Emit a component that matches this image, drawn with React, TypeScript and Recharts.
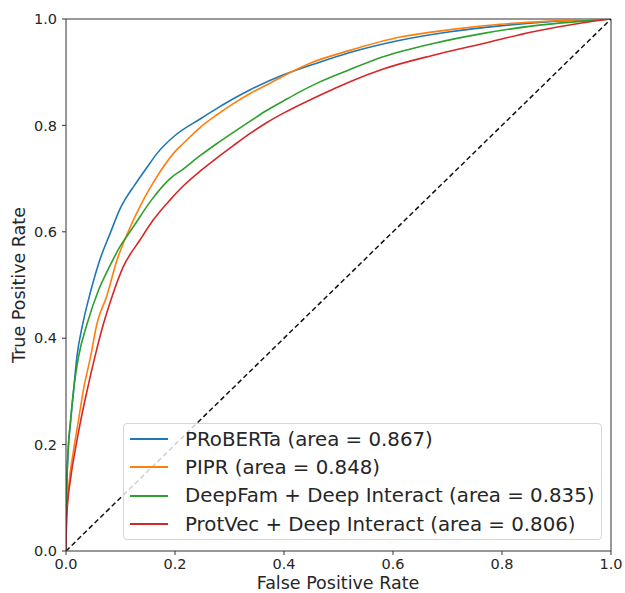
import React from "react";
import {
  LineChart,
  Line,
  XAxis,
  YAxis,
  ReferenceLine,
  Legend,
} from "recharts";

// ROC curves, [false positive rate, true positive rate]
const probertaRoc: [number, number][] = [
  [0, 0], [0.001, 0.1], [0.004, 0.19], [0.008, 0.24], [0.014, 0.303],
  [0.02, 0.365], [0.031, 0.428], [0.046, 0.491], [0.062, 0.547], [0.081, 0.597],
  [0.1, 0.645], [0.108, 0.66], [0.124, 0.685], [0.154, 0.729], [0.166, 0.746],
  [0.2, 0.781], [0.246, 0.812], [0.277, 0.832], [0.307, 0.85], [0.338, 0.867],
  [0.399, 0.895], [0.46, 0.917], [0.521, 0.937], [0.613, 0.96], [0.705, 0.976],
  [0.796, 0.987], [0.888, 0.995], [1, 1],
];

const piprRoc: [number, number][] = [
  [0, 0], [0.001, 0.06], [0.007, 0.14], [0.014, 0.19], [0.022, 0.24],
  [0.032, 0.303], [0.045, 0.365], [0.057, 0.428], [0.075, 0.48], [0.093, 0.545],
  [0.114, 0.6], [0.142, 0.66], [0.154, 0.682], [0.172, 0.712], [0.203, 0.754],
  [0.215, 0.766], [0.246, 0.796], [0.277, 0.82], [0.307, 0.841], [0.338, 0.86],
  [0.368, 0.876], [0.399, 0.893], [0.448, 0.917], [0.521, 0.941], [0.613, 0.966],
  [0.705, 0.98], [0.796, 0.99], [0.888, 0.996], [1, 1],
];

const deepFamRoc: [number, number][] = [
  [0, 0], [0.001, 0.1], [0.004, 0.19], [0.008, 0.24], [0.014, 0.303],
  [0.023, 0.365], [0.039, 0.428], [0.06, 0.491], [0.08, 0.535], [0.099, 0.572],
  [0.124, 0.61], [0.157, 0.66], [0.191, 0.7], [0.215, 0.718], [0.246, 0.743],
  [0.277, 0.766], [0.307, 0.787], [0.338, 0.808], [0.368, 0.828], [0.399, 0.846],
  [0.429, 0.863], [0.46, 0.879], [0.521, 0.905], [0.582, 0.929], [0.674, 0.954],
  [0.766, 0.973], [0.857, 0.987], [0.949, 0.996], [1, 1],
];

const protVecRoc: [number, number][] = [
  [0, 0], [0.001, 0.06], [0.009, 0.14], [0.017, 0.19], [0.026, 0.24],
  [0.039, 0.303], [0.053, 0.365], [0.069, 0.428], [0.085, 0.48], [0.105, 0.534],
  [0.136, 0.585], [0.16, 0.622], [0.191, 0.66], [0.215, 0.686], [0.246, 0.714],
  [0.277, 0.739], [0.307, 0.762], [0.338, 0.785], [0.368, 0.805], [0.399, 0.823],
  [0.46, 0.854], [0.49, 0.868], [0.521, 0.882], [0.582, 0.906], [0.674, 0.932],
  [0.766, 0.954], [0.857, 0.976], [0.949, 0.993], [1, 1],
];

const chanceLine: [number, number][] = [[0, 0], [1, 1]];

const seriesNames = [
  "PRoBERTa (area = 0.867)",
  "PIPR (area = 0.848)",
  "DeepFam + Deep Interact (area = 0.835)",
  "ProtVec + Deep Interact (area = 0.806)",
];
const seriesColors = ["#1f77b4", "#ff7f0e", "#2ca02c", "#d62728"];
const seriesData = [probertaRoc, piprRoc, deepFamRoc, protVecRoc];

const axisTicks = [0, 0.2, 0.4, 0.6, 0.8, 1.0];

const toRows = (pts: [number, number][]) => pts.map(([fpr, tpr]) => ({ fpr, tpr }));

const FONT = "'DejaVu Sans', sans-serif";
const INK = "#262626";

const LegendBox = () => (
  <div
    style={{
      width: 479,
      height: 117,
      boxSizing: "border-box",
      border: "1px solid #d6d6d6",
      borderRadius: 4,
      background: "rgba(255,255,255,0.8)",
      paddingTop: 1,
      fontFamily: FONT,
      fontSize: 19.8,
      color: INK,
    }}
  >
    {seriesNames.map((name, i) => (
      <div key={name} style={{ height: 28.3, display: "flex", alignItems: "center" }}>
        <div
          style={{
            marginLeft: 6,
            width: 38,
            height: 2,
            background: seriesColors[i],
            marginRight: 17,
          }}
        />
        <span style={{ whiteSpace: "nowrap" }}>{name}</span>
      </div>
    ))}
  </div>
);

export default function App() {
  return (
    <div style={{ position: "absolute", left: 0, top: 0, width: 625, height: 593, background: "#fff" }}>
      <LineChart width={625} height={593} margin={{ top: 19, right: 14, left: 16, bottom: 2 }}>
        <XAxis
          type="number"
          dataKey="fpr"
          domain={[0, 1]}
          ticks={axisTicks}
          tickFormatter={(v: number) => v.toFixed(1)}
          height={40}
          tickSize={4}
          tickMargin={4}
          stroke="#333"
          tick={{ fill: INK, fontSize: 14.5, fontFamily: FONT }}
          allowDataOverflow
        />
        <YAxis
          type="number"
          dataKey="tpr"
          domain={[0, 1]}
          ticks={axisTicks}
          tickFormatter={(v: number) => v.toFixed(1)}
          width={50}
          tickSize={4}
          tickMargin={5}
          stroke="#333"
          tick={{ fill: INK, fontSize: 14.5, fontFamily: FONT }}
          allowDataOverflow
        />
        <ReferenceLine x={1} stroke="#333" strokeWidth={1} />
        <ReferenceLine y={1} stroke="#333" strokeWidth={1} />
        {seriesData.map((pts, i) => (
          <Line
            key={seriesNames[i]}
            data={toRows(pts)}
            dataKey="tpr"
            name={seriesNames[i]}
            type="monotone"
            stroke={seriesColors[i]}
            strokeWidth={1.6}
            dot={false}
            activeDot={false}
            isAnimationActive={false}
          />
        ))}
        <Line
          data={toRows(chanceLine)}
          dataKey="tpr"
          name="chance"
          legendType="none"
          type="linear"
          stroke="#111"
          strokeWidth={1.5}
          strokeDasharray="5 3"
          dot={false}
          activeDot={false}
          isAnimationActive={false}
        />
        <Legend
          layout="vertical"
          align="center"
          verticalAlign="middle"
          content={() => <LegendBox />}
          wrapperStyle={{ left: 123, top: 423, width: 479, height: 117 }}
        />
      </LineChart>
      <div
        style={{
          position: "absolute",
          left: 19,
          top: 285,
          transform: "translate(-50%, -50%) rotate(-90deg)",
          whiteSpace: "nowrap",
          fontFamily: FONT,
          fontSize: 17.5,
          color: INK,
        }}
      >
        True Positive Rate
      </div>
      <div
        style={{
          position: "absolute",
          left: 338,
          top: 583,
          transform: "translate(-50%, -50%)",
          whiteSpace: "nowrap",
          fontFamily: FONT,
          fontSize: 17.5,
          color: INK,
        }}
      >
        False Positive Rate
      </div>
    </div>
  );
}
